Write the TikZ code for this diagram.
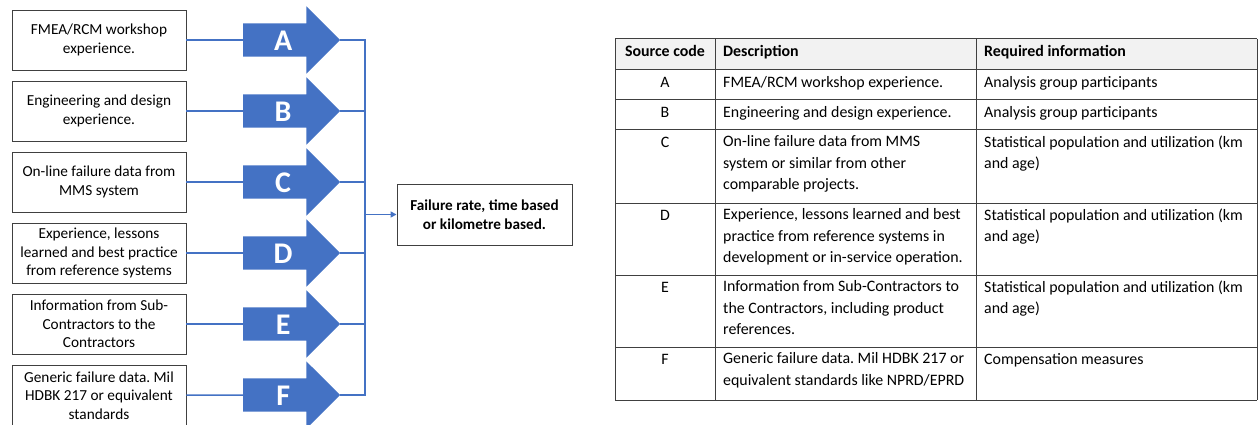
\documentclass[tikz,border=0pt]{standalone}
\usepackage{fontspec}
\setmainfont{Carlito}
\usetikzlibrary{shapes.arrows, arrows.meta}
\definecolor{blu}{HTML}{4472C4}
\definecolor{edge}{HTML}{404040}
\definecolor{hdr}{HTML}{F2F2F2}
\frenchspacing
\tikzset{
    src/.style={draw=edge, line width=0.9pt, minimum width=174pt, minimum height=60pt,
                inner sep=2pt, align=center, font=\fontsize{15.3}{18.5}\selectfont},
    blk/.style={single arrow, fill=blu, text=white, font=\fontsize{30}{30}\selectfont\bfseries,
                single arrow head extend=17pt, single arrow tip angle=90, minimum height=97pt,
                text height=21pt, text depth=0pt, inner ysep=6pt, inner xsep=2pt, outer sep=0pt, anchor=tail},
    link/.style={draw=blu, line width=1.5pt},
    cell/.style={anchor=north west, inner sep=0pt, align=left, font=\fontsize{15.9}{21.5}\selectfont,
                 execute at begin node={\rule{0pt}{11.5pt}}},
    cellc/.style={cell, anchor=north, align=center},
}

\begin{document}
\begin{tikzpicture}[x=1pt, y=-1pt]
    \useasboundingbox (0,0) rectangle (1258,425);

    \node[src] (srcA)  at ( 99, 40)    {FMEA/RCM workshop\\experience.};
    \node[src] (srcB)  at ( 99,111)    {Engineering and design\\experience.};
    \node[src] (srcC)  at ( 99,182)    {On-line failure data from\\MMS system};
    \node[src] (srcD)  at ( 99,253)    {Experience, lessons\\learned and best practice\\from reference systems};
    \node[src] (srcE)  at ( 99,324)    {Information from Sub-\\Contractors to the\\Contractors};
    \node[src] (srcF)  at ( 99,395.5)  {Generic failure data. Mil\\HDBK 217 or equivalent\\standards};

    \node[blk] (arrA)  at (243, 40)    {A};
    \node[blk] (arrB)  at (243,111)    {B};
    \node[blk] (arrC)  at (243,182)    {C};
    \node[blk] (arrD)  at (243,253)    {D};
    \node[blk] (arrE)  at (243,324)    {E};
    \node[blk] (arrF)  at (243,395)    {F};

    \coordinate (bus) at (365,214.5);
    \node[src, font=\fontsize{15.2}{18.5}\selectfont\bfseries, minimum width=175pt, minimum height=61pt]
        (result) at (484.5,214.5) {Failure rate, time based\\or kilometre based.};

    \foreach \x in {A, B, C, D, E, F}{
        \draw[link] (src\x) -- (arr\x.tail);
        \draw[link] (arr\x.tip) -| (bus);
        };
    \draw[link, -{Triangle[length=6pt, width=6pt]}] (bus) -- (result);

    % table
    \fill[hdr] (615,39) rectangle (1257,70);
    \foreach \y in {39, 70, 100, 130, 203, 275, 347, 400}{
        \draw[edge, line width=1pt] (615,\y) -- (1257,\y);
        };
    \foreach \x in {615, 715, 976, 1257}{
        \draw[edge, line width=1pt] (\x,39) -- (\x,400);
        };

    \node[cellc] (hdCode) at (665, 44.5)  {\bfseries Source code};
    \node[cell]  (hdDesc) at (723, 44.5)  {\bfseries Description};
    \node[cell]  (hdInfo) at (984, 44.5)  {\bfseries Required information};

    \node[cellc] (codeA)  at (665, 75.5)  {A};
    \node[cell]  (descA)  at (723, 75.5)  {FMEA/RCM workshop experience.};
    \node[cell]  (infoA)  at (984, 75.5)  {Analysis group participants};

    \node[cellc] (codeB)  at (665,105.5)  {B};
    \node[cell]  (descB)  at (723,105.5)  {Engineering and design experience.};
    \node[cell]  (infoB)  at (984,105.5)  {Analysis group participants};

    \node[cellc] (codeC)  at (665,135.5)  {C};
    \node[cell]  (descC)  at (723,135.5)  {On-line failure data from MMS\\system or similar from other\\comparable projects.};
    \node[cell]  (infoC)  at (984,135.5)  {Statistical population and utilization (km\\and age)};

    \node[cellc] (codeD)  at (665,208.5)  {D};
    \node[cell]  (descD)  at (723,208.5)  {Experience, lessons learned and best\\practice from reference systems in\\development or in-service operation.};
    \node[cell]  (infoD)  at (984,208.5)  {Statistical population and utilization (km\\and age)};

    \node[cellc] (codeE)  at (665,280.5)  {E};
    \node[cell]  (descE)  at (723,280.5)  {Information from Sub-Contractors to\\the Contractors, including product\\references.};
    \node[cell]  (infoE)  at (984,280.5)  {Statistical population and utilization (km\\and age)};

    \node[cellc] (codeF)  at (665,352.5)  {F};
    \node[cell]  (descF)  at (723,352.5)  {Generic failure data. Mil HDBK 217 or\\equivalent standards like NPRD/EPRD};
    \node[cell]  (infoF)  at (984,352.5)  {Compensation measures};
\end{tikzpicture}
\end{document}
